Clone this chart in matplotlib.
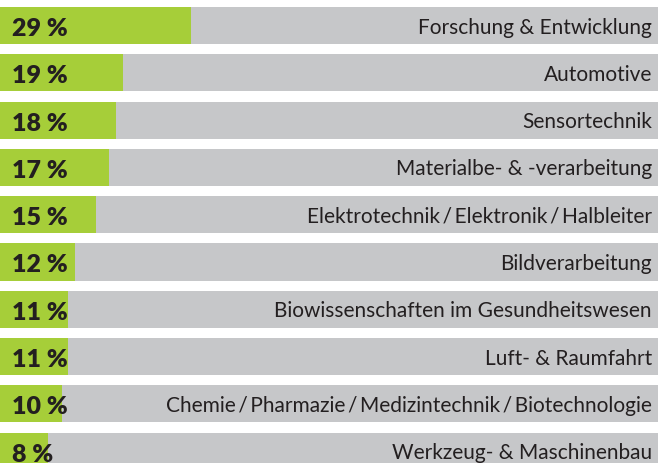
import numpy as np
import matplotlib
matplotlib.use("Agg")
import matplotlib.pyplot as plt

s = "\u2009/\u2009"
categories = ["Forschung & Entwicklung", "Automotive", "Sensortechnik",
              "Materialbe- & -verarbeitung",
              "Elektrotechnik" + s + "Elektronik" + s + "Halbleiter", "Bildverarbeitung",
              "Biowissenschaften im Gesundheitswesen", "Luft- & Raumfahrt",
              "Chemie" + s + "Pharmazie" + s + "Medizintechnik" + s + "Biotechnologie",
              "Werkzeug- & Maschinenbau"]
values = [29, 19, 18, 17, 15, 12, 11, 11, 10, 8]
labels = ["29 %", "19 %", "18 %", "17 %", "15 %", "12 %", "11 %", "11 %", "10 %", "8 %"]

green = "#a6ce39"
gray = "#c6c7c9"
dark = "#231f20"

W, H = 658, 463
fig = plt.figure(figsize=(W / 100, H / 100), dpi=100)
ax = fig.add_axes([0, 0, 1, 1])

# pixel geometry
px_per = 6.81
x0 = -6.5
pitch = 47.3
top_c = 25.5

y = np.arange(len(values))
ax.barh(y, [200] * len(values), left=-10, height=37 / pitch, color=gray, zorder=1)
ax.barh(y, values, height=37 / pitch, color=green, zorder=2)

for i in range(len(values)):
    ax.text((12 - x0) / px_per, i + 0.22, labels[i], ha="left", va="baseline",
            fontsize=18, fontweight="heavy", color=dark,
            family=["Lato", "DejaVu Sans"], zorder=3)
    ax.text((652 - x0) / px_per, i + 0.17, categories[i], ha="right", va="baseline",
            fontsize=15, color=dark, family=["Lato", "DejaVu Sans"], zorder=3)

ax.set_xlim(-x0 / px_per, (W - x0) / px_per)
ax.set_ylim((H - top_c) / pitch, -top_c / pitch)
ax.axis("off")

fig.savefig("out.png", dpi=100)
